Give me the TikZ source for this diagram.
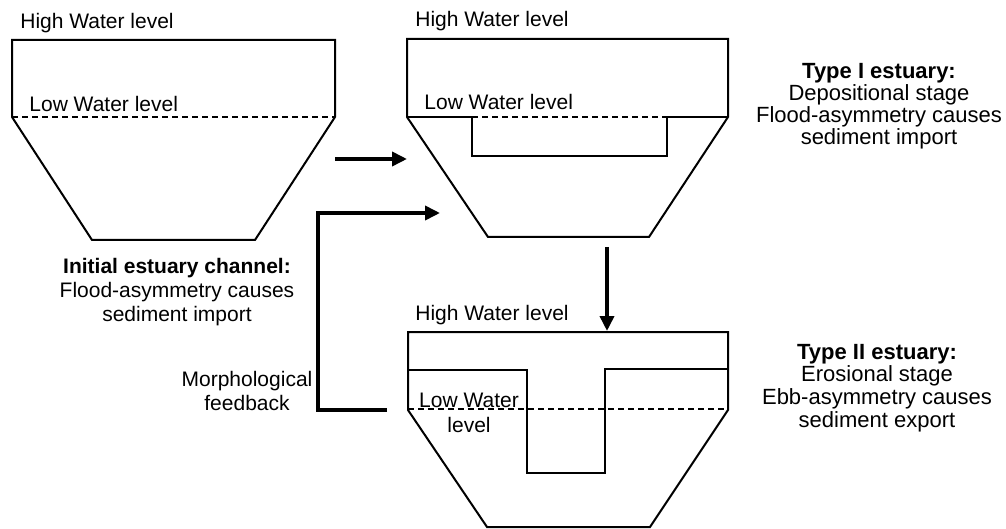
\documentclass[tikz,border=0pt]{standalone}
\usepackage{fontspec}
\setmainfont{Liberation Sans}
\usepackage{tikz}
\usetikzlibrary{arrows.meta}

\begin{document}
\begin{tikzpicture}[
        x = 0.5pt, y = -0.5pt,
        bank/.style = {line width = 1pt, line join = miter},
        lowline/.style = {line width = 1.2pt, dash pattern = on 3pt off 2pt},
        flow/.style = {line width = 1.8pt, line join = miter, -{Triangle[length = 7.5pt, width = 7pt]}},
        lbl/.style = {inner sep = 0, anchor = base west, font = \fontsize{10.5}{12}\selectfont},
        info/.style = {inner sep = 0, align = center, font = \fontsize{11}{11}\selectfont}
    ]
        \useasboundingbox (0,0) rectangle (1006,529);
        % initial channel
        \draw[bank] (12,117) -- (12,40) -- (335,40) -- (335,117) -- (255,240) -- (92,240) -- cycle;
        \draw[lowline] (12,117) -- (335,117);
        \node[lbl] (hw1) at (20,29) {High Water level};
        \node[lbl] (lw1) at (29,112) {Low Water level};
        % type I
        \draw[bank] (407,117) -- (407,39) -- (728,39) -- (728,117) -- (649,237) -- (488,237) -- cycle;
        \draw[bank] (407,117) -- (472,117) -- (472,156) -- (667,156) -- (667,117) -- (728,117);
        \draw[lowline] (472,117) -- (667,117);
        \node[lbl] (hw2) at (415,27) {High Water level};
        \node[lbl] (lw2) at (424,110) {Low Water level};
        % type II
        \draw[bank] (408,410) -- (408,332) -- (728,332) -- (728,410) -- (650,527) -- (487,527) -- cycle;
        \draw[bank] (408,370) -- (527,370) -- (527,473) -- (605,473) -- (605,369) -- (728,369);
        \draw[lowline] (408,409) -- (728,409);
        \node[lbl] (hw3) at (415,321) {High Water level};
        \node[lbl, anchor = base] (lw3) at (469,407) {Low Water};
        \node[lbl, anchor = base] (lw3b) at (469,432) {level};
        % captions
        \node[info, font = \fontsize{10.5}{12}\selectfont] (init) at (177,292)
            {\textbf{Initial estuary channel:}\\Flood-asymmetry causes\\sediment import};
        \node[info] (typeI) at (879,106)
            {\textbf{Type I estuary:}\\Depositional stage\\Flood-asymmetry causes\\sediment import};
        \node[info, font = \fontsize{11}{11.3}\selectfont] (typeII) at (877,388)
            {\textbf{Type II estuary:}\\Erosional stage\\Ebb-asymmetry causes\\sediment export};
        \node[info, font = \fontsize{10.5}{12}\selectfont] (morph) at (247,391)
            {Morphological\\feedback};
        % arrows
        \coordinate (a1s) at (335,159);
        \coordinate (a1e) at (407,159);
        \coordinate (fb0) at (387,410);
        \coordinate (fb1) at (318,410);
        \coordinate (fb2) at (318,213);
        \coordinate (fb3) at (440,213);
        \coordinate (dn0) at (607,247);
        \coordinate (dn1) at (607,331);
        \draw[flow] (a1s) -- (a1e);
        \draw[flow] (fb0) -- (fb1) -- (fb2) -- (fb3);
        \draw[flow] (dn0) -- (dn1);
    \end{tikzpicture}
\end{document}
